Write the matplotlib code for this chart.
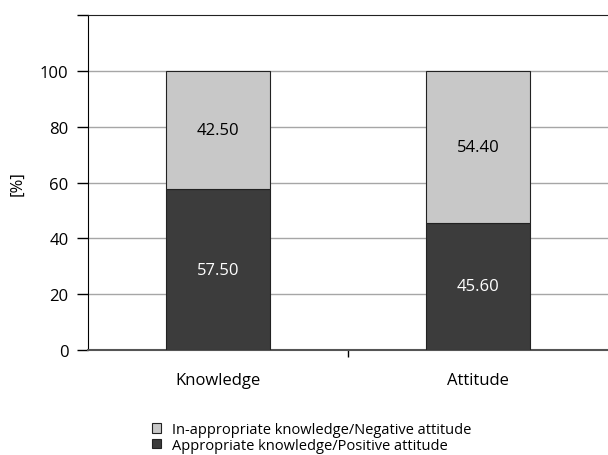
import numpy as np
import matplotlib
matplotlib.use('Agg')
import matplotlib.pyplot as plt
from matplotlib.patches import Patch

# DATA
categories = ['Knowledge', 'Attitude']
appropriate = [57.50, 45.60]
inappropriate = [42.50, 54.40]
series_names = ['In-appropriate knowledge/Negative attitude',
                'Appropriate knowledge/Positive attitude']
yticks = [0, 20, 40, 60, 80, 100, 120]
ytick_labels = ['0', '20', '40', '60', '80', '100', '']

# COLOURS
light = '#c8c8c8'
dark = '#3c3c3c'

plt.rcParams['font.family'] = ['Open Sans', 'DejaVu Sans']
plt.rcParams['font.size'] = 12

fig = plt.figure(figsize=(6.08, 4.56), dpi=100)
ax = fig.add_axes([88 / 608, 1 - 351 / 456, 520 / 608, 335 / 456])

x = np.arange(len(categories))
w = 0.4
ax.bar(x, appropriate, w, color=dark, edgecolor='#222222', linewidth=0.8, zorder=3)
ax.bar(x, inappropriate, w, bottom=appropriate, color=light,
       edgecolor='#222222', linewidth=0.8, zorder=3)

# value labels
for i in range(len(categories)):
    ax.text(x[i], appropriate[i] / 2, '%.2f' % appropriate[i],
            ha='center', va='center', color='white', fontsize=12, zorder=4)
    ax.text(x[i], appropriate[i] + inappropriate[i] / 2, '%.2f' % inappropriate[i],
            ha='center', va='center', color='black', fontsize=12, zorder=4)

ax.set_xlim(-0.5, 1.5)
ax.set_ylim(0, 120)
ax.set_yticks(yticks)
ax.set_yticklabels(ytick_labels)
ax.set_xticks([0.5])
ax.set_xticklabels([''])
ax.tick_params(axis='x', direction='out', length=5, width=1, colors='black')
ax.tick_params(axis='y', direction='out', length=8, width=1, colors='black',
               labelsize=12, pad=6)
for i in range(len(categories)):
    ax.text(x[i], -0.09, categories[i], transform=ax.get_xaxis_transform(),
            ha='center', va='center', fontsize=12)

# grid
for v in yticks[1:-1]:
    ax.axhline(v, color='#a6a6a6', linewidth=1, zorder=1)

ax.spines['right'].set_visible(False)
ax.spines['left'].set_color('black')
ax.spines['top'].set_color('#222222')
ax.spines['bottom'].set_color('#555555')
ax.spines['bottom'].set_linewidth(1.5)

ax.set_ylabel('[%]', fontsize=12)
ax.yaxis.set_label_coords(-0.12, 0.5)

handles = [Patch(facecolor=light, edgecolor='#222222', linewidth=0.8),
           Patch(facecolor=dark, edgecolor='#222222', linewidth=0.8)]
fig.legend(handles, series_names, loc='upper left',
           bbox_to_anchor=(152 / 608, 1 - 423 / 456), frameon=False,
           handlelength=0.65, handleheight=0.65, handletextpad=0.7,
           labelspacing=0.05, fontsize=10.5, borderaxespad=0, borderpad=0)

fig.savefig('out.png', dpi=100)
